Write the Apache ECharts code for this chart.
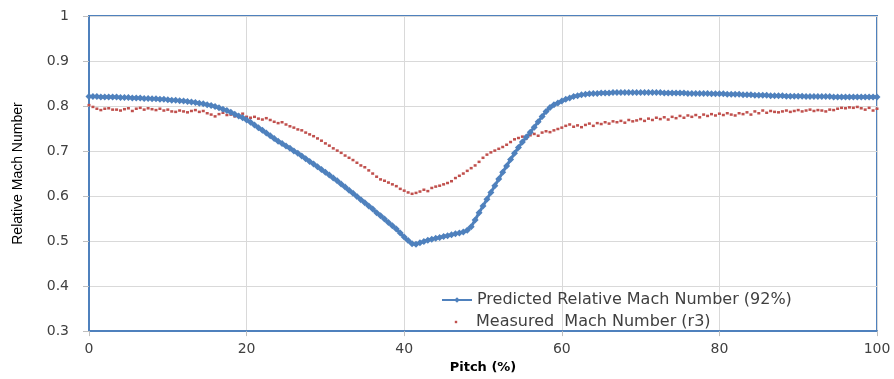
<!DOCTYPE html>
<html>
<head>
<meta charset="utf-8">
<script src="https://cdn.jsdelivr.net/npm/echarts@6/dist/echarts.min.js"></script>
<style>
  html, body { margin: 0; padding: 0; background: #ffffff; }
  #chart { width: 894px; height: 379px; }
</style>
</head>
<body>
<div id="chart"></div>
<script>
// Pitch positions (%) shared by both traverses
const pitch = [
  0, 0.5, 1, 1.5, 2, 2.5, 3, 3.5, 4, 4.5, 5, 5.5, 6, 6.5, 7, 7.5, 8, 8.5, 9, 9.5,
  10, 10.5, 11, 11.5, 12, 12.5, 13, 13.5, 14, 14.5, 15, 15.5, 16, 16.5, 17, 17.5, 18, 18.5, 19, 19.5,
  20, 20.5, 21, 21.5, 22, 22.5, 23, 23.5, 24, 24.5, 25, 25.5, 26, 26.5, 27, 27.5, 28, 28.5, 29, 29.5,
  30, 30.5, 31, 31.5, 32, 32.5, 33, 33.5, 34, 34.5, 35, 35.5, 36, 36.5, 37, 37.5, 38, 38.5, 39, 39.5,
  40, 40.5, 41, 41.5, 42, 42.5, 43, 43.5, 44, 44.5, 45, 45.5, 46, 46.5, 47, 47.5, 48, 48.5, 49, 49.5,
  50, 50.5, 51, 51.5, 52, 52.5, 53, 53.5, 54, 54.5, 55, 55.5, 56, 56.5, 57, 57.5, 58, 58.5, 59, 59.5,
  60, 60.5, 61, 61.5, 62, 62.5, 63, 63.5, 64, 64.5, 65, 65.5, 66, 66.5, 67, 67.5, 68, 68.5, 69, 69.5,
  70, 70.5, 71, 71.5, 72, 72.5, 73, 73.5, 74, 74.5, 75, 75.5, 76, 76.5, 77, 77.5, 78, 78.5, 79, 79.5,
  80, 80.5, 81, 81.5, 82, 82.5, 83, 83.5, 84, 84.5, 85, 85.5, 86, 86.5, 87, 87.5, 88, 88.5, 89, 89.5,
  90, 90.5, 91, 91.5, 92, 92.5, 93, 93.5, 94, 94.5, 95, 95.5, 96, 96.5, 97, 97.5, 98, 98.5, 99, 99.5,
  100
];

// Predicted relative Mach number (92% speed)
const predictedMach = [
  0.821, 0.821, 0.821, 0.820, 0.820, 0.820, 0.820, 0.820, 0.819, 0.819, 0.819, 0.818, 0.818, 0.818, 0.817, 0.817, 0.816, 0.816, 0.815, 0.815,
  0.814, 0.813, 0.813, 0.812, 0.811, 0.810, 0.809, 0.808, 0.806, 0.805, 0.803, 0.801, 0.799, 0.796, 0.793, 0.790, 0.786, 0.782, 0.778, 0.774,
  0.769, 0.764, 0.758, 0.752, 0.746, 0.740, 0.734, 0.728, 0.722, 0.717, 0.711, 0.706, 0.700, 0.695, 0.689, 0.683, 0.677, 0.671, 0.665, 0.659,
  0.653, 0.647, 0.640, 0.634, 0.627, 0.620, 0.613, 0.606, 0.599, 0.592, 0.585, 0.578, 0.571, 0.563, 0.556, 0.549, 0.541, 0.534, 0.527, 0.518,
  0.509, 0.501, 0.494, 0.493, 0.496, 0.499, 0.502, 0.504, 0.506, 0.508, 0.510, 0.512, 0.514, 0.516, 0.518, 0.520, 0.524, 0.532, 0.547, 0.563,
  0.578, 0.593, 0.608, 0.623, 0.638, 0.653, 0.667, 0.681, 0.695, 0.708, 0.720, 0.731, 0.742, 0.753, 0.765, 0.777, 0.788, 0.797, 0.803, 0.807,
  0.811, 0.815, 0.818, 0.821, 0.823, 0.825, 0.826, 0.827, 0.828, 0.828, 0.829, 0.829, 0.829, 0.830, 0.830, 0.830, 0.830, 0.830, 0.830, 0.830,
  0.830, 0.830, 0.830, 0.830, 0.830, 0.830, 0.829, 0.829, 0.829, 0.829, 0.829, 0.829, 0.828, 0.828, 0.828, 0.828, 0.828, 0.828, 0.827, 0.827,
  0.827, 0.827, 0.826, 0.826, 0.826, 0.826, 0.825, 0.825, 0.825, 0.824, 0.824, 0.824, 0.824, 0.823, 0.823, 0.823, 0.823, 0.822, 0.822, 0.822,
  0.822, 0.822, 0.821, 0.821, 0.821, 0.821, 0.821, 0.821, 0.821, 0.820, 0.820, 0.820, 0.820, 0.820, 0.820, 0.820, 0.820, 0.820, 0.820, 0.820,
  0.820
];

// Measured Mach number, traverse r3
const measuredMach = [
  0.802, 0.798, 0.794, 0.791, 0.794, 0.795, 0.792, 0.792, 0.790, 0.793, 0.795, 0.789, 0.794, 0.796, 0.792, 0.795, 0.793, 0.791, 0.794, 0.790,
  0.792, 0.788, 0.787, 0.790, 0.788, 0.786, 0.789, 0.791, 0.787, 0.789, 0.784, 0.781, 0.777, 0.782, 0.785, 0.780, 0.781, 0.777, 0.779, 0.783,
  0.776, 0.774, 0.776, 0.772, 0.770, 0.773, 0.769, 0.765, 0.762, 0.764, 0.759, 0.755, 0.752, 0.748, 0.746, 0.741, 0.737, 0.733, 0.728, 0.723,
  0.717, 0.712, 0.706, 0.701, 0.696, 0.690, 0.685, 0.680, 0.674, 0.668, 0.664, 0.657, 0.650, 0.643, 0.637, 0.634, 0.630, 0.626, 0.622, 0.616,
  0.612, 0.608, 0.605, 0.607, 0.610, 0.614, 0.611, 0.618, 0.621, 0.623, 0.626, 0.629, 0.633, 0.640, 0.645, 0.650, 0.656, 0.662, 0.668, 0.676,
  0.685, 0.692, 0.697, 0.701, 0.705, 0.709, 0.714, 0.720, 0.726, 0.729, 0.732, 0.728, 0.735, 0.738, 0.734, 0.741, 0.744, 0.742, 0.746, 0.749,
  0.752, 0.756, 0.759, 0.754, 0.757, 0.753, 0.758, 0.761, 0.756, 0.762, 0.760, 0.764, 0.761, 0.766, 0.764, 0.767, 0.763, 0.769, 0.766, 0.768,
  0.771, 0.767, 0.772, 0.769, 0.774, 0.771, 0.775, 0.770, 0.776, 0.773, 0.778, 0.774, 0.779, 0.776, 0.780, 0.775, 0.781, 0.778, 0.782, 0.779,
  0.783, 0.780, 0.784, 0.781, 0.779, 0.784, 0.782, 0.786, 0.781, 0.788, 0.784, 0.790, 0.785, 0.789, 0.787, 0.786, 0.788, 0.790, 0.787, 0.789,
  0.791, 0.788, 0.790, 0.792, 0.789, 0.791, 0.790, 0.788, 0.792, 0.791, 0.794, 0.796, 0.795, 0.797, 0.796, 0.798, 0.795, 0.792, 0.796, 0.790,
  0.794
];

const xTicks = [0, 20, 40, 60, 80, 100];
const yTicks = [0.3, 0.4, 0.5, 0.6, 0.7, 0.8, 0.9, 1];

const predictedName = 'Predicted Relative Mach Number (92%)';
const measuredName = 'Measured  Mach Number (r3)';

const BLUE = '#4f81bd';
const RED = '#c0504d';
const TICK_FONT = 'DejaVu Sans, Verdana, sans-serif';

const zip = (xs, ys) => xs.map((x, i) => [x, ys[i]]);

const chart = echarts.init(document.getElementById('chart'), null, { renderer: 'canvas' });

const legendText = { fontFamily: TICK_FONT, fontSize: 16, color: '#404040' };

chart.setOption({
  animation: false,
  backgroundColor: '#ffffff',
  grid: {
    left: 89, right: 17, top: 16, bottom: 43,
    show: true, borderColor: BLUE, borderWidth: 2, backgroundColor: 'transparent'
  },
  legend: [
    {
      data: [predictedName],
      orient: 'vertical', left: 436, top: 287,
      itemWidth: 30, itemHeight: 7, itemGap: 6,
      textStyle: legendText
    },
    {
      data: [measuredName],
      orient: 'vertical', left: 436, top: 309,
      itemWidth: 30, itemHeight: 3, itemGap: 6,
      textStyle: legendText
    }
  ],
  xAxis: {
    type: 'value',
    min: xTicks[0], max: xTicks[xTicks.length - 1], interval: 20,
    name: 'Pitch (%)', nameLocation: 'middle', nameGap: 25,
    nameTextStyle: { fontFamily: TICK_FONT, fontSize: 13, fontWeight: 'bold', color: '#000' },
    axisLine: { show: true, lineStyle: { color: BLUE, width: 2 } },
    axisTick: { show: true, length: 5, lineStyle: { color: '#bfbfbf' } },
    axisLabel: { margin: 11, fontFamily: TICK_FONT, fontSize: 14, color: '#404040' },
    splitLine: { show: true, lineStyle: { color: '#d9d9d9', width: 1 } }
  },
  yAxis: {
    type: 'value',
    min: yTicks[0], max: yTicks[yTicks.length - 1], interval: 0.1,
    name: 'Relative Mach Number', nameLocation: 'middle', nameGap: 64,
    nameTextStyle: { fontFamily: 'Liberation Sans Narrow, Arial Narrow, sans-serif', fontSize: 14, color: '#000' },
    axisLine: { show: true, lineStyle: { color: BLUE, width: 2 } },
    axisTick: { show: true, length: 6, lineStyle: { color: '#bfbfbf' } },
    axisLabel: {
      margin: 20, fontFamily: TICK_FONT, fontSize: 14, color: '#404040',
      formatter: v => (Math.abs(v - 1) < 1e-9 ? '1' : v.toFixed(1))
    },
    splitLine: { show: true, lineStyle: { color: '#d9d9d9', width: 1 } }
  },
  series: [
    {
      name: measuredName,
      type: 'line',
      data: zip(pitch, measuredMach),
      symbol: 'rect',
      symbolSize: [3, 2.5],
      showAllSymbol: true,
      lineStyle: { width: 0, opacity: 0 },
      itemStyle: { color: RED },
      z: 2
    },
    {
      name: predictedName,
      type: 'line',
      data: zip(pitch, predictedMach),
      symbol: 'diamond',
      symbolSize: [7, 7],
      showAllSymbol: true,
      lineStyle: { width: 3, color: BLUE },
      itemStyle: { color: BLUE },
      z: 3
    }
  ]
});
</script>
</body>
</html>
